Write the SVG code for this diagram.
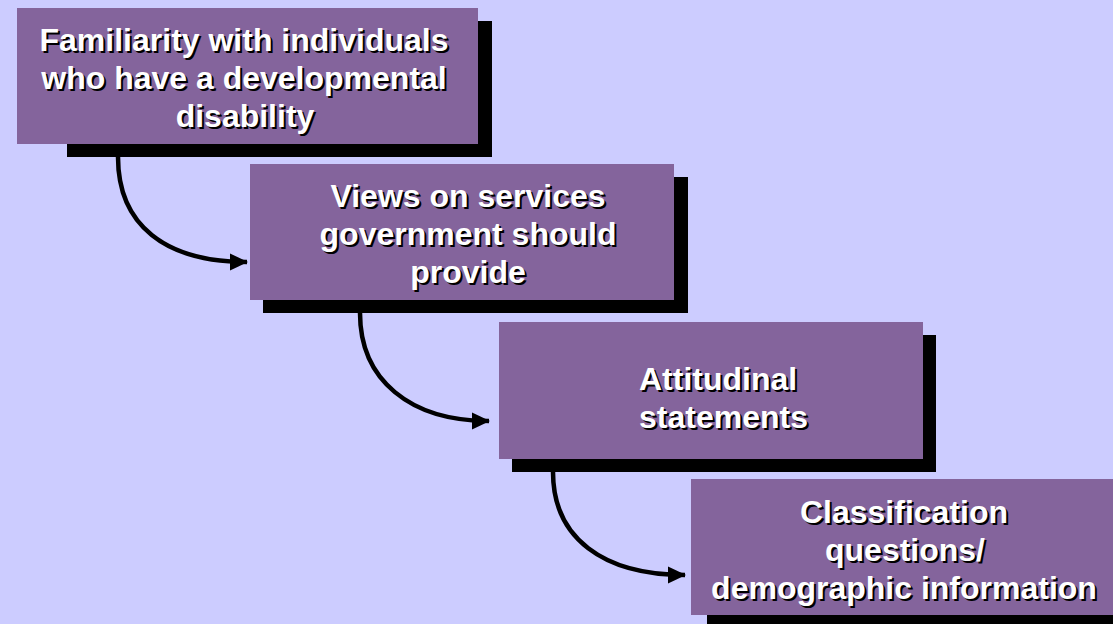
<svg xmlns="http://www.w3.org/2000/svg" width="1113" height="624" viewBox="0 0 1113 624">
<style>
.bg{fill:#CCCCFF}
.box{fill:#84649C}
.sh{fill:#000}
.t{font-family:"Liberation Sans",Arial,sans-serif;font-weight:bold;font-size:32px;text-anchor:middle}
.ts{fill:#000}
.tw{fill:#fff}
.c{fill:none;stroke:#000;stroke-width:4.5}
</style>
<defs>
<marker id="ah" viewBox="0 0 18 18" refX="17" refY="9" markerWidth="18" markerHeight="18" orient="auto" markerUnits="userSpaceOnUse">
<path d="M0,0.5 L18,9 L0,17.5 z" fill="#000"/>
</marker>
</defs>
<rect class="bg" x="0" y="0" width="1113" height="624"/>
<g id="node1">
<rect class="sh" x="67" y="21" width="425" height="136"/>
<rect class="box" x="17" y="8" width="461" height="136"/>
<text class="t ts" x="246" y="53">Familiarity with individuals</text>
<text class="t tw" x="244" y="51">Familiarity with individuals</text>
<text class="t ts" x="246" y="91">who have a developmental</text>
<text class="t tw" x="244" y="89">who have a developmental</text>
<text class="t ts" x="247" y="129">disability</text>
<text class="t tw" x="245" y="127">disability</text>
</g>
<g id="node2">
<rect class="sh" x="263" y="177" width="425" height="136"/>
<rect class="box" x="250" y="164" width="424" height="136"/>
<text class="t ts" x="470" y="209">Views on services</text>
<text class="t tw" x="468" y="207">Views on services</text>
<text class="t ts" x="470" y="247">government should</text>
<text class="t tw" x="468" y="245">government should</text>
<text class="t ts" x="470" y="285">provide</text>
<text class="t tw" x="468" y="283">provide</text>
</g>
<g id="node3">
<rect class="sh" x="512" y="335" width="424" height="137"/>
<rect class="box" x="499" y="322" width="424" height="137"/>
<text class="t ts" x="641" y="392" style="text-anchor:start">Attitudinal</text>
<text class="t tw" x="639" y="390" style="text-anchor:start">Attitudinal</text>
<text class="t ts" x="641" y="430" style="text-anchor:start">statements</text>
<text class="t tw" x="639" y="428" style="text-anchor:start">statements</text>
</g>
<g id="node4">
<rect class="sh" x="707" y="492" width="420" height="136"/>
<rect class="box" x="691" y="479" width="430" height="136"/>
<text class="t ts" x="906" y="525">Classification</text>
<text class="t tw" x="904" y="523">Classification</text>
<text class="t ts" x="907" y="563">questions/</text>
<text class="t tw" x="905" y="561">questions/</text>
<text class="t ts" x="906" y="601">demographic information</text>
<text class="t tw" x="904" y="599">demographic information</text>
</g>
<g id="connectors">
<path class="c" d="M118,157 C118,225 165,262 247,262" marker-end="url(#ah)"/>
<path class="c" d="M360,313 C360,380 410,421 489,421" marker-end="url(#ah)"/>
<path class="c" d="M553,472 C553,538 603,575 685,575" marker-end="url(#ah)"/>
</g>
</svg>
